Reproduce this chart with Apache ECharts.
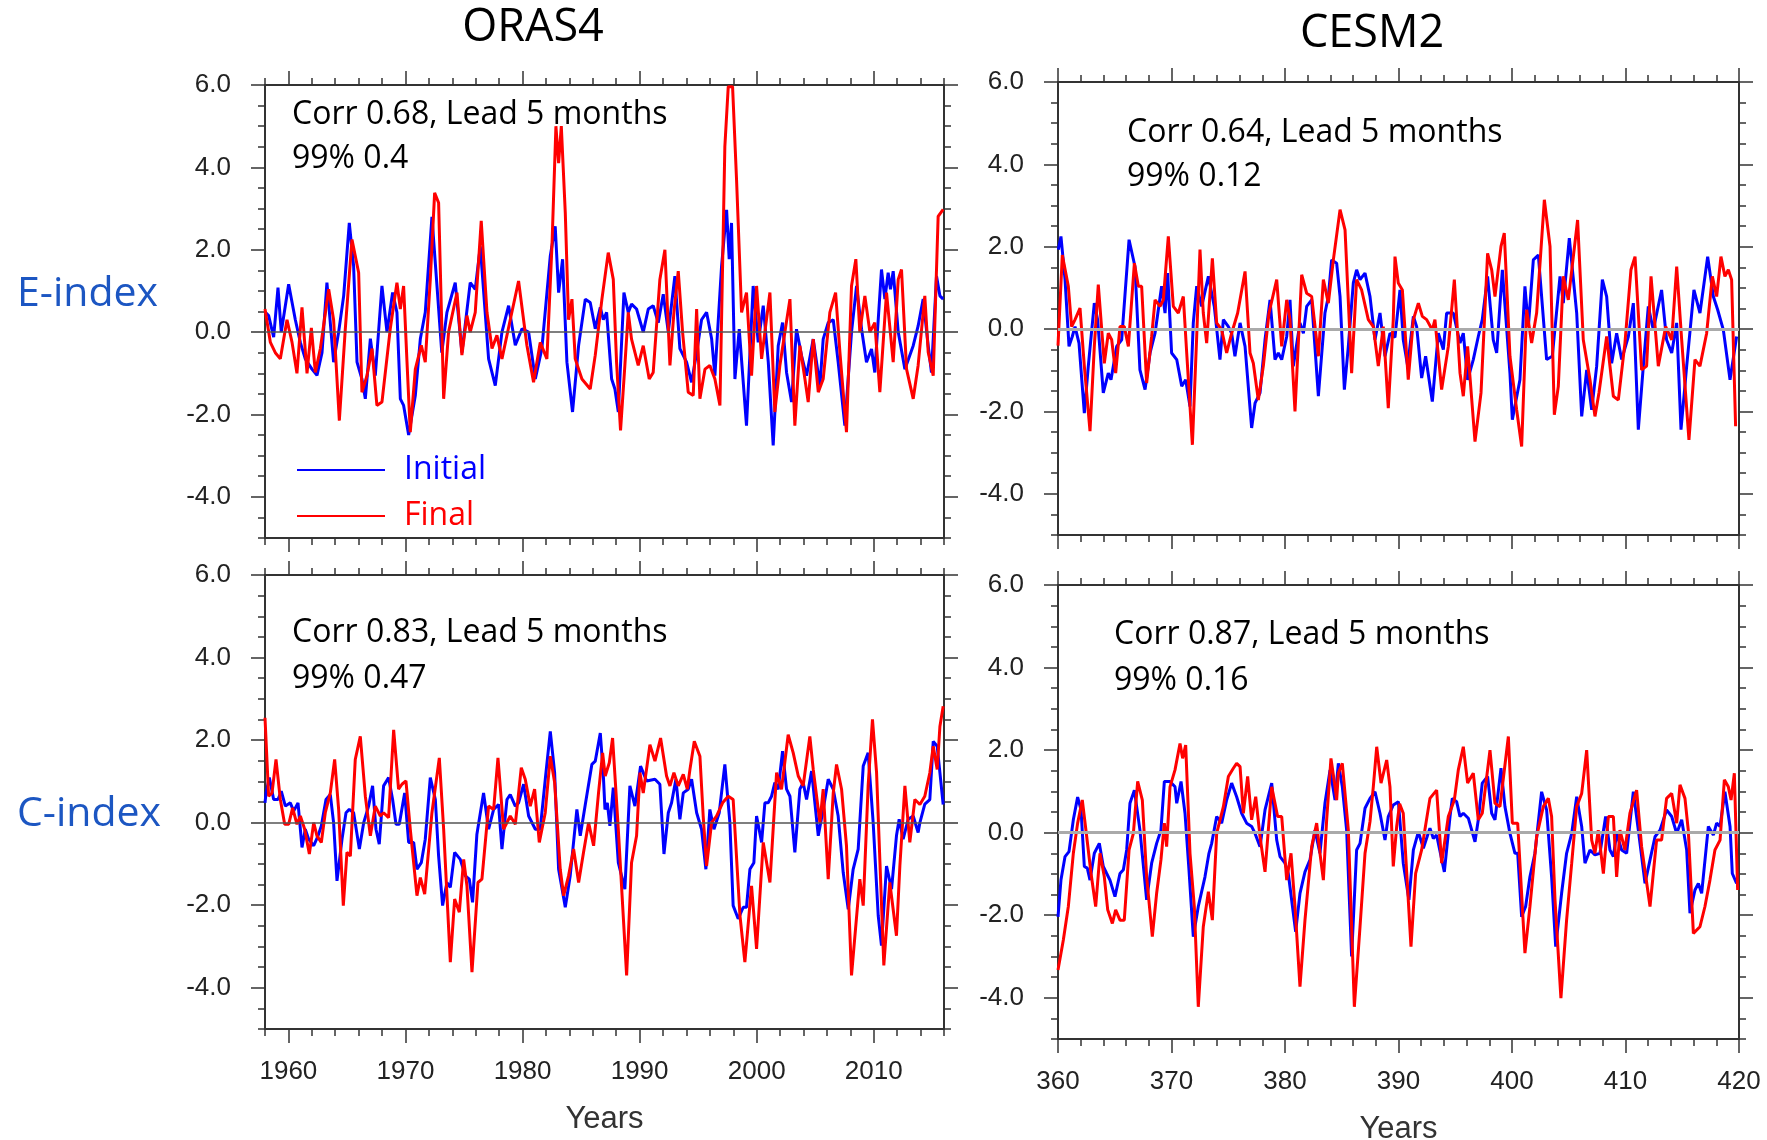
<!DOCTYPE html>
<html>
<head>
<meta charset="utf-8">
<title>E-index / C-index, ORAS4 and CESM2</title>
<script src="https://cdn.jsdelivr.net/npm/echarts@6/dist/echarts.min.js"></script>
<style>
html, body { margin: 0; padding: 0; background: #fff; }
#chart { width: 1767px; height: 1140px; }
</style>
</head>
<body>
<div id="chart"></div>
<script>
// tick labels
var orasYears = [1960, 1970, 1980, 1990, 2000, 2010];
var cesmYears = [360, 370, 380, 390, 400, 410, 420];
var indexTicks = [-4, -2, 0, 2, 4, 6];

// E-index, ORAS4  [year, value]
var eOrasInitial = [
  [1958.03,0.48],[1958.31,0.4],[1958.74,-0.12],[1959.11,1.08],[1959.39,0],[1960.02,1.16],[1960.59,0.3],[1961.02,-0.25],[1961.44,-0.65],[1962.01,-0.9],
  [1962.44,-1.05],[1962.87,-0.5],[1963.29,1.2],[1963.86,-0.73],[1964.29,0],[1964.72,0.88],[1965.2,2.65],[1965.57,1.6],[1965.86,-0.73],[1966.28,-1.14],
  [1966.57,-1.62],[1967.0,-0.16],[1967.42,-1.06],[1967.99,1.12],[1968.42,0],[1968.9,0.96],[1969.27,0.48],[1969.56,-1.62],[1969.84,-1.78],[1970.27,-2.5],
  [1970.84,-1.54],[1971.27,-0.16],[1971.69,0.48],[1972.26,2.8],[1972.69,1.12],[1973.1,-0.5],[1973.54,0.48],[1974.25,1.2],[1974.82,-0.5],[1975.53,1.2],
  [1975.96,1.04],[1976.39,2.08],[1977.1,-0.65],[1977.67,-1.3],[1978.24,0],[1978.81,0.64],[1979.38,-0.32],[1979.95,0.08],[1980.52,0],[1981.09,-1.14],
  [1981.65,-0.4],[1982.37,1.85],[1982.79,2.57],[1983.08,0.96],[1983.42,1.77],[1983.79,-0.73],[1984.27,-1.94],[1984.79,-0.32],[1985.36,0.8],[1985.78,0.72],
  [1986.21,0.08],[1986.64,0.6],[1986.9,0.3],[1987.18,0.48],[1987.61,-1.14],[1987.89,-1.38],[1988.18,-1.94],[1988.66,0.96],[1989.03,0.48],[1989.31,0.68],
  [1989.74,0.56],[1990.31,0],[1990.74,0.56],[1991.16,0.64],[1991.59,0.23],[1992.02,0.92],[1992.45,0],[1993.01,1.36],[1993.44,-0.4],[1994.01,-0.73],
  [1994.44,-1.22],[1994.87,-0.5],[1995.29,0.3],[1995.72,0.48],[1996.15,-0.16],[1996.43,-1.06],[1997.0,1.6],[1997.43,2.97],[1997.65,1.77],[1997.85,2.65],
  [1998.14,-1.14],[1998.51,0.07],[1999.13,-2.27],[1999.7,1.12],[2000.13,-0.25],[2000.56,0.64],[2000.99,-0.73],[2001.41,-2.75],[2001.84,-0.33],[2002.21,0.23],
  [2002.55,-0.98],[2002.98,-1.7],[2003.4,0.07],[2003.83,-0.57],[2004.26,-1.06],[2004.83,-0.17],[2005.4,-1.3],[2005.68,-0.17],[2006.11,0.23],[2006.54,0.3],
  [2006.96,-0.73],[2007.53,-2.27],[2008.1,0],[2008.53,1.12],[2008.96,0.07],[2009.38,-0.73],[2009.81,-0.41],[2010.09,-0.98],[2010.66,1.52],[2010.95,0.8],
  [2011.23,1.44],[2011.43,1.04],[2011.66,1.48],[2012.09,0],[2012.66,-0.9],[2013.37,-0.33],[2013.79,0.15],[2014.22,0.8],[2014.65,-0.33],[2014.93,-0.98],
  [2015.36,1.36],[2015.65,0.88],[2015.93,0.8]
];
var eOrasFinal = [
  [1958.0,0.56],[1958.46,-0.25],[1958.88,-0.5],[1959.31,-0.65],[1959.88,0.3],[1960.31,-0.25],[1960.73,-1.0],[1961.16,0.6],[1961.59,-1.0],[1961.96,0.1],
  [1962.3,-0.98],[1962.73,-0.4],[1963.44,1.04],[1963.86,0.3],[1964.35,-2.15],[1964.86,0.08],[1965.43,2.25],[1966.0,1.44],[1966.28,-1.46],[1966.71,-1.06],
  [1967.14,-0.4],[1967.56,-1.78],[1967.99,-1.7],[1968.7,0.08],[1969.27,1.2],[1969.56,0.56],[1969.84,1.12],[1970.13,-0.73],[1970.41,-2.43],[1970.84,-0.9],
  [1971.35,-0.32],[1971.69,-0.73],[1972.12,1.28],[1972.49,3.38],[1972.83,3.14],[1973.26,-1.62],[1973.68,0],[1974.4,0.96],[1974.82,-0.56],[1975.25,0.4],
  [1975.53,0],[1975.96,0.48],[1976.47,2.7],[1976.96,0.48],[1977.39,-0.4],[1977.81,-0.08],[1978.24,-0.65],[1978.95,0.3],[1979.66,1.24],[1980.37,-0.32],
  [1980.94,-1.22],[1981.51,-0.25],[1982.08,-0.65],[1982.51,2.08],[1982.85,5.0],[1983.08,4.1],[1983.31,5.0],[1983.65,2.9],[1983.93,0.3],[1984.22,0.8],
  [1984.5,-0.65],[1985.07,-1.14],[1985.78,-1.38],[1986.21,-0.56],[1986.78,0.8],[1987.32,1.93],[1987.75,1.28],[1988.03,-0.73],[1988.37,-2.39],[1988.74,-0.81],
  [1989.03,0.48],[1989.31,-0.17],[1989.88,-0.81],[1990.31,-0.33],[1990.82,-1.14],[1991.16,-0.98],[1991.73,1.28],[1992.16,2.0],[1992.59,-0.81],[1992.93,0.48],
  [1993.3,1.48],[1993.67,0],[1994.15,-1.46],[1994.58,-1.54],[1994.87,0.56],[1995.15,-1.62],[1995.58,-0.9],[1996.0,-0.81],[1996.43,-1.14],[1996.86,-1.78],
  [1997.28,4.5],[1997.57,5.96],[1997.94,5.96],[1998.28,3.7],[1998.71,0.48],[1999.13,0.96],[1999.56,-1.06],[1999.99,1.12],[2000.42,-0.65],[2000.7,0],
  [2001.13,0.96],[2001.55,-1.94],[2001.98,-0.81],[2002.41,0],[2002.84,0.8],[2003.26,-2.27],[2003.69,-0.33],[2004.12,-1.14],[2004.4,-1.7],[2004.83,-0.17],
  [2005.26,-1.46],[2005.68,-1.14],[2006.25,0.48],[2006.74,0.96],[2007.11,-0.49],[2007.67,-2.43],[2008.1,1.12],[2008.47,1.77],[2008.81,0],[2009.24,0.88],
  [2009.67,0],[2010.09,0.23],[2010.52,-1.46],[2011.09,0.96],[2011.66,-0.73],[2012.09,1.28],[2012.37,1.52],[2012.8,-0.9],[2013.37,-1.62],[2013.79,-0.81],
  [2014.36,0.88],[2014.65,-0.49],[2015.08,-1.06],[2015.5,2.81],[2015.93,2.98]
];

// E-index, CESM2
var eCesmInitial = [
  [360.03,1.93],[360.26,2.25],[360.62,1.2],[360.97,-0.42],[361.26,-0.18],[361.5,0.06],[361.85,-0.34],[362.32,-2.04],[362.67,-0.9],[363.2,0.63],
  [363.49,0.23],[363.99,-1.55],[364.43,-1.07],[364.67,-1.23],[365.17,-0.42],[365.61,-0.26],[366.26,2.17],[366.78,1.52],[367.22,-0.99],[367.67,-1.47],
  [368.11,-0.58],[368.55,-0.1],[369.13,1.04],[369.43,0.39],[369.66,1.36],[370.01,-0.58],[370.46,-0.74],[370.9,-1.39],[371.25,-1.23],[371.63,-1.88],
  [371.92,0.15],[372.22,1.04],[372.66,0.55],[373.25,1.28],[373.77,0.55],[374.27,-0.74],[374.57,0.23],[375.01,0.06],[375.3,-0.1],[375.59,-0.66],
  [376.04,0.15],[376.48,-0.42],[377.06,-2.4],[377.36,-1.8],[377.8,-1.55],[378.24,-0.26],[378.68,0.71],[379.12,-0.74],[379.41,-0.58],[379.71,-0.74],
  [380.15,-0.18],[380.44,0.71],[380.73,-0.9],[381.32,0.15],[381.62,-0.1],[381.91,0.55],[382.35,0.71],[382.94,-1.63],[383.52,0.39],[383.82,0.79],
  [384.11,1.68],[384.55,1.6],[384.85,0.79],[385.23,-1.47],[385.58,-0.42],[386.02,1.12],[386.31,1.44],[386.61,1.2],[387.05,1.36],[387.49,0.79],
  [387.93,-0.26],[388.37,0.39],[388.81,-0.66],[389.25,-0.1],[389.69,-0.2],[390.13,0.95],[390.42,-0.26],[390.81,-0.9],[391.31,0.31],[391.6,0.06],
  [392.04,-1.19],[392.39,-0.66],[392.98,-1.76],[393.51,-0.1],[393.95,-0.5],[394.24,0.39],[394.83,0.39],[395.42,-0.34],[395.71,-0.1],[396.09,-1.23],
  [396.59,-0.74],[397.03,-0.18],[397.38,0.23],[397.85,1.28],[398.35,-0.26],[398.65,-0.58],[399.15,1.44],[399.82,-1.07],[400.03,-2.2],[400.7,-1.23],
  [401.14,1.04],[401.44,0.06],[401.88,1.68],[402.32,1.8],[403.05,-0.74],[403.55,-0.66],[404.23,1.28],[404.52,0.63],[405.05,2.21],[405.7,0.39],
  [406.14,-2.12],[406.58,-0.99],[407.02,-1.96],[407.46,-0.9],[407.96,1.2],[408.34,0.79],[408.78,-0.83],[409.22,-0.1],[409.66,-0.74],[410.25,-0.18],
  [410.69,0.63],[411.13,-2.44],[411.57,-0.9],[412.01,0.55],[412.45,-0.02],[413.18,0.95],[413.62,-0.26],[414.07,-0.58],[414.51,0.15],[414.89,-2.44],
  [415.39,-0.9],[416.03,0.95],[416.56,0.39],[417.24,1.76],[417.74,0.79],[418.12,0.47],[418.62,-0.02],[419.21,-1.23],[419.79,-0.18]
];
var eCesmFinal = [
  [360.0,-0.4],[360.38,1.8],[360.91,1.04],[361.2,0.06],[361.5,0.23],[361.94,0.51],[362.32,-0.9],[362.82,-2.48],[363.2,-0.42],[363.55,1.08],
  [364.08,-0.83],[364.43,-0.1],[364.73,-0.26],[365.08,-1.07],[365.46,0.06],[365.84,0.06],[366.2,-0.42],[366.73,1.6],[367.08,1.04],[367.37,1.04],
  [367.81,-1.31],[368.25,-0.18],[368.55,0.71],[368.99,0.55],[369.28,0.71],[369.72,2.25],[370.16,0.55],[370.6,0.39],[371.04,0.79],[371.34,-0.58],
  [371.84,-2.81],[372.22,-0.18],[372.51,1.93],[372.8,0.39],[373.1,-0.34],[373.6,1.72],[373.98,0.15],[374.42,-0.02],[374.86,-0.58],[375.3,-0.1],
  [375.83,0.39],[376.48,1.4],[376.92,-0.58],[377.21,-0.83],[377.65,-1.72],[378.09,-0.9],[378.59,0.39],[379.27,1.2],[379.71,-0.42],[380.15,0.71],
  [380.44,0.23],[380.88,-2.0],[381.47,1.32],[381.91,0.87],[382.35,0.79],[382.94,-0.66],[383.38,1.2],[383.82,0.63],[384.26,1.68],[384.85,2.9],
  [385.29,2.41],[385.87,-1.07],[386.31,1.2],[386.75,0.95],[387.34,0.23],[387.78,0.06],[388.22,-0.9],[388.66,0.06],[389.1,-1.92],[389.54,0.23],
  [389.69,1.76],[389.98,1.12],[390.34,0.95],[390.86,-1.23],[391.31,0.23],[391.75,0.63],[392.1,0.31],[392.48,0.23],[392.98,-0.02],[393.21,0.23],
  [393.8,-1.47],[394.39,-0.42],[394.92,1.2],[395.42,-1.07],[395.71,-1.63],[396.09,-0.42],[396.74,-2.73],[397.27,-1.55],[397.85,1.84],[398.21,1.44],
  [398.5,0.79],[399.03,2.01],[399.32,2.33],[399.82,-0.66],[400.41,-1.96],[400.85,-2.85],[401.29,0.47],[401.73,-0.34],[402.17,0.39],[402.85,3.14],
  [403.35,2.01],[403.73,-2.08],[404.08,-1.39],[404.52,1.28],[404.96,0.71],[405.78,2.65],[406.28,-0.26],[406.87,-1.23],[407.31,-2.12],[407.66,-1.55],
  [408.34,-0.18],[408.93,-1.63],[409.37,-1.72],[409.95,-0.34],[410.48,1.44],[410.84,1.76],[411.42,-0.99],[411.86,-0.9],[412.25,1.28],[412.89,-0.9],
  [413.54,0.06],[414.07,-0.26],[414.51,1.52],[414.95,-0.26],[415.59,-2.69],[416.12,-0.74],[416.56,-0.9],[417.15,-0.1],[417.65,1.28],[418.03,0.79],
  [418.41,1.76],[418.76,1.28],[419.06,1.44],[419.35,1.2],[419.7,-2.36]
];

// C-index, ORAS4
var cOrasInitial = [
  [1958.0,0.48],[1958.09,0.72],[1958.37,1.09],[1958.74,0.56],[1959.11,0.56],[1959.39,0.76],[1959.74,0.4],[1960.16,0.48],[1960.45,0.28],[1960.82,0.48],
  [1961.16,-0.6],[1961.44,-0.16],[1961.73,-0.4],[1962.16,-0.56],[1962.53,-0.32],[1962.81,-0.08],[1963.21,0.56],[1963.58,0.68],[1963.86,0],[1964.15,-1.41],
  [1964.58,-0.4],[1964.92,0.24],[1965.2,0.32],[1965.57,0.24],[1966.06,-0.64],[1966.43,0],[1966.85,0.4],[1967.19,0.89],[1967.48,-0.16],[1967.76,-0.52],
  [1968.13,0.89],[1968.56,1.09],[1968.9,0.56],[1969.19,-0.04],[1969.47,-0.04],[1969.93,0.72],[1970.27,-0.48],[1970.7,-0.48],[1970.98,-1.13],[1971.35,-0.97],
  [1971.69,-0.4],[1972.12,1.09],[1972.55,0.56],[1972.83,-0.81],[1973.17,-2.01],[1973.54,-1.45],[1973.83,-1.57],[1974.2,-0.72],[1974.68,-0.89],[1975.11,-1.29],
  [1975.45,-1.37],[1975.73,-1.93],[1976.1,-0.28],[1976.67,0.72],[1977.1,-0.16],[1977.53,0.32],[1977.95,0.44],[1978.24,-0.64],[1978.67,0.56],[1978.95,0.68],
  [1979.38,0.4],[1979.66,0.48],[1980.09,0.93],[1980.52,0.16],[1981.09,-0.16],[1981.51,-0.16],[1981.94,1.05],[1982.37,2.21],[1982.74,1.21],[1983.08,-1.13],
  [1983.65,-2.05],[1984.07,-1.29],[1984.64,0.32],[1984.93,-0.32],[1985.36,0.44],[1985.92,1.41],[1986.21,1.49],[1986.64,2.17],[1986.89,1.21],[1987.04,0.32],
  [1987.24,0.48],[1987.46,-0.08],[1987.75,0.85],[1988.18,-0.97],[1988.74,-1.61],[1989.17,0.89],[1989.6,0.4],[1990.08,1.37],[1990.6,1.01],[1991.31,1.05],
  [1991.73,0.93],[1992.08,-0.76],[1992.45,0.24],[1992.73,0.48],[1993.1,1.05],[1993.44,0.08],[1993.73,0.72],[1994.15,0.81],[1994.44,1.05],[1994.87,0.24],
  [1995.29,-0.16],[1995.66,-1.13],[1996.0,0.32],[1996.35,-0.16],[1996.8,0.24],[1997.28,1.41],[1997.71,0],[1997.99,-2.01],[1998.42,-2.33],[1998.85,-2.05],
  [1999.13,-2.05],[1999.42,-1.13],[1999.76,-0.97],[1999.99,0.16],[2000.42,-0.48],[2000.7,0.48],[2000.98,0.48],[2001.27,0.64],[2001.55,0.97],[2001.84,0.81],
  [2002.21,1.73],[2002.55,0.81],[2002.84,0.64],[2003.26,-0.72],[2003.69,0.81],[2003.97,0.97],[2004.26,0.56],[2004.69,1.25],[2005.26,-0.32],[2005.68,0.32],
  [2006.11,1.05],[2006.54,0.81],[2006.96,0.16],[2007.39,-1.21],[2007.82,-2.1],[2008.24,-1.13],[2008.67,-0.64],[2009.1,1.37],[2009.52,1.69],[2009.95,0],
  [2010.38,-2.25],[2010.66,-2.98],[2011.09,-1.05],[2011.52,-1.61],[2011.94,-0.32],[2012.17,0.08],[2012.51,-0.4],[2012.94,0.08],[2013.37,0.16],[2013.79,-0.24],
  [2013.94,0],[2014.36,0.45],[2014.79,0.56],[2015.08,1.97],[2015.42,1.85],[2015.65,1.21],[2015.93,0.44]
];
var cOrasFinal = [
  [1958.0,2.54],[1958.31,0.64],[1958.6,0.72],[1958.94,1.53],[1959.31,0.56],[1959.68,-0.04],[1960.02,-0.04],[1960.36,0.36],[1960.73,-0.04],[1961.02,0.16],
  [1961.39,-0.16],[1961.79,-0.76],[1962.16,0],[1962.44,-0.32],[1962.81,-0.48],[1963.15,0.24],[1963.58,0.72],[1963.95,1.53],[1964.29,0.32],[1964.69,-2.01],
  [1965.0,-0.72],[1965.29,-0.81],[1965.71,1.53],[1966.14,2.09],[1966.57,0.64],[1967.0,-0.32],[1967.42,0.4],[1967.85,0.16],[1968.13,0.24],[1968.56,0.12],
  [1968.99,2.25],[1969.41,0.81],[1969.7,0.93],[1970.04,1.01],[1970.41,-0.16],[1970.98,-1.77],[1971.27,-1.33],[1971.64,-1.73],[1972.26,0.24],[1972.89,1.57],
  [1973.26,-0.16],[1973.83,-3.38],[1974.2,-1.85],[1974.6,-2.17],[1974.97,-0.89],[1975.25,-1.53],[1975.68,-3.62],[1976.19,-1.45],[1976.53,-1.37],[1977.1,0.4],
  [1977.53,0.32],[1977.9,1.57],[1978.38,-0.16],[1978.95,0.16],[1979.38,-0.04],[1979.89,1.33],[1980.23,1.05],[1980.66,0.4],[1981.03,0.81],[1981.43,-0.48],
  [1981.94,0.24],[1982.37,1.61],[1982.74,0.97],[1983.22,-1.13],[1983.51,-1.77],[1983.93,-1.29],[1984.36,-0.64],[1984.79,-1.45],[1985.21,-0.72],[1985.64,0],
  [1986.07,-0.56],[1986.49,0.72],[1986.84,1.69],[1987.06,1.13],[1987.41,1.45],[1987.69,2.05],[1988.18,-0.16],[1988.89,-3.7],[1989.31,-0.97],[1989.74,-0.32],
  [1990.03,1.21],[1990.31,0.72],[1990.88,1.89],[1991.31,1.49],[1991.79,2.05],[1992.3,1.13],[1992.59,0.89],[1992.93,1.21],[1993.3,0.89],[1993.73,1.17],
  [1994.07,0.81],[1994.3,1.29],[1994.67,1.97],[1995.15,1.61],[1995.43,0.16],[1995.72,-1.05],[1996.15,0],[1996.57,0.16],[1997.09,0.48],[1997.57,0.64],
  [1997.99,0.56],[1998.57,-2.25],[1998.99,-3.38],[1999.56,-1.53],[1999.99,-3.06],[2000.56,-0.48],[2001.13,-1.45],[2001.7,1.21],[2002.12,0.81],[2002.69,2.13],
  [2003.12,1.69],[2003.55,1.13],[2003.97,0.89],[2004.54,2.09],[2004.83,1.29],[2005.4,0],[2005.68,0.81],[2006.11,-1.37],[2006.54,0.72],[2006.82,1.41],
  [2007.25,0.81],[2007.67,-0.56],[2008.1,-3.7],[2008.81,-1.37],[2009.1,-2.01],[2009.52,0.89],[2009.89,2.5],[2010.24,1.21],[2010.86,-3.46],[2011.37,-1.45],
  [2011.94,-2.74],[2012.23,-1.05],[2012.66,0.89],[2013.08,-0.48],[2013.51,0.56],[2013.94,0.44],[2014.36,0.64],[2014.79,1.21],[2015.08,1.85],[2015.42,1.29],
  [2015.65,2.33],[2015.93,2.82]
];

// C-index, CESM2
var cCesmInitial = [
  [360.0,-2.04],[360.26,-1.15],[360.62,-0.58],[360.97,-0.46],[361.35,0.31],[361.73,0.86],[362.03,0.55],[362.32,-0.82],[362.58,-0.86],[362.82,-1.15],
  [363.2,-0.5],[363.64,-0.26],[363.99,-0.82],[364.29,-0.99],[364.58,-1.15],[365.02,-1.55],[365.46,-0.99],[365.76,-0.9],[366.05,-0.42],[366.34,0.71],
  [366.73,1.03],[367.22,0.06],[367.81,-1.63],[368.25,-0.74],[368.69,-0.26],[369.07,0.06],[369.37,1.24],[369.87,1.24],[370.31,1.11],[370.46,0.71],
  [370.84,1.24],[371.19,0.47],[371.54,-0.9],[371.92,-2.52],[372.36,-1.79],[372.95,-1.07],[373.3,-0.5],[373.54,-0.26],[373.98,0.39],[374.42,0.23],
  [374.86,0.79],[375.3,1.2],[375.74,0.87],[376.18,0.47],[376.62,0.23],[377.06,0.15],[377.36,-0.02],[377.8,-0.34],[378.24,0.55],[378.83,1.2],
  [379.27,-0.18],[379.56,-0.58],[380.0,-0.74],[380.29,-0.99],[380.94,-2.4],[381.32,-1.47],[381.76,-0.95],[382.2,-0.66],[382.64,0.06],[383.08,-0.5],
  [383.52,0.71],[383.97,1.52],[384.41,0.79],[384.7,1.68],[385.05,1.11],[385.43,0.06],[385.87,-3.0],[386.31,-0.42],[386.61,-0.26],[387.05,0.59],
  [387.49,0.83],[387.93,0.99],[388.37,0.47],[388.81,-0.18],[389.1,0.39],[389.54,0.67],[389.99,0.75],[390.42,-0.74],[390.92,-1.63],[391.31,-0.42],
  [391.75,0.02],[392.19,-0.38],[392.77,0.11],[393.07,-0.14],[393.36,-0.06],[394.04,-0.95],[394.54,0.39],[394.74,0.83],[395.12,0.75],[395.42,0.39],
  [395.71,0.47],[396.15,0.35],[396.74,-0.22],[397.03,0.31],[397.38,1.2],[397.85,1.36],[398.21,0.47],[398.5,0.31],[399.03,1.56],[399.38,0.63],
  [399.82,-0.02],[400.26,-0.5],[400.5,-0.5],[400.85,-2.04],[401.2,-1.79],[401.58,-1.07],[402.02,-0.5],[402.61,0.99],[403.05,0.55],[403.49,-1.07],
  [403.85,-2.76],[404.37,-1.47],[404.81,-0.5],[405.26,-0.02],[405.7,0.87],[406.14,0.15],[406.43,-0.74],[406.87,-0.42],[407.31,-0.54],[407.75,-0.5],
  [408.25,0.39],[408.63,-0.42],[408.93,-0.58],[409.22,-0.02],[409.66,-0.42],[410.1,-0.5],[410.69,0.99],[411.13,0.06],[411.72,-1.23],[412.16,-0.66],
  [412.6,-0.1],[413.04,0.06],[413.62,0.55],[414.07,0.39],[414.51,-0.02],[414.95,0.31],[415.39,-0.42],[415.68,-1.95],[416.12,-1.39],[416.42,-1.23],
  [416.71,-1.47],[417.3,0.15],[417.74,-0.06],[418.03,0.23],[418.33,0.15],[418.76,0.99],[419.21,0.15],[419.41,-0.99],[419.79,-1.23]
];
var cCesmFinal = [
  [360.0,-3.33],[360.47,-2.6],[360.91,-1.79],[361.35,-0.5],[361.73,0.23],[362.14,0.79],[362.53,-0.1],[362.91,-0.99],[363.32,-1.79],[363.7,-0.5],
  [364.08,-1.07],[364.38,-1.87],[364.79,-2.2],[365.08,-1.87],[365.46,-2.12],[365.84,-2.12],[366.26,-0.42],[366.64,-0.02],[367.02,1.24],[367.43,0.79],
  [367.81,-1.07],[368.31,-2.52],[368.69,-1.47],[369.07,-0.66],[369.37,0.23],[369.57,-0.34],[369.87,1.11],[370.31,1.52],[370.75,2.16],[370.98,1.8],
  [371.25,2.12],[371.63,-0.5],[372.01,-1.79],[372.36,-4.22],[372.8,-2.28],[373.25,-1.43],[373.6,-2.12],[373.98,-0.02],[374.57,0.63],[375.01,1.36],
  [375.45,1.56],[375.74,1.68],[376.04,1.6],[376.33,0.47],[376.71,1.36],[377.06,0.31],[377.42,0.87],[377.8,-0.1],[378.24,-0.95],[378.83,1.11],
  [379.35,0.39],[379.71,0.39],[380.15,-1.15],[380.53,-0.5],[380.88,-1.79],[381.32,-3.73],[381.76,-2.12],[382.35,-0.34],[382.79,0.23],[383.08,-0.5],
  [383.38,-1.15],[383.67,0.31],[384.05,1.8],[384.41,1.11],[384.55,0.79],[384.7,1.44],[385.05,1.68],[385.58,0.06],[386.11,-4.22],[386.61,-2.28],
  [387.05,-0.5],[387.49,0.27],[387.78,1.11],[388.08,2.08],[388.46,1.2],[388.96,1.76],[389.25,1.11],[389.54,-0.82],[389.84,0.15],[390.1,0.7],
  [390.42,0.47],[391.1,-2.76],[391.51,-0.99],[392.04,-0.42],[392.77,0.83],[393.36,1.03],[393.8,-0.74],[394.39,0.39],[394.92,0.79],[395.27,1.52],
  [395.71,2.08],[396.09,1.2],[396.59,1.44],[397.03,0.31],[397.38,0.47],[398.06,2.0],[398.5,0.71],[398.94,0.63],[399.68,2.33],[400.03,0.23],
  [400.5,0.23],[401.14,-2.92],[401.58,-1.79],[402.17,-0.1],[402.76,0.63],[403.2,0.83],[403.49,0.39],[403.79,-1.63],[404.31,-4.01],[404.81,-2.12],
  [405.26,-0.74],[405.7,0.63],[406.14,0.95],[406.58,2.0],[407.02,-0.18],[407.31,-0.5],[407.6,0.06],[408.05,-0.99],[408.49,0.39],[408.93,0.39],
  [409.22,-1.07],[409.51,0.06],[409.95,-0.42],[410.39,0.47],[410.98,1.03],[411.42,-0.34],[412.16,-1.79],[412.74,-0.18],[413.18,-0.18],[413.62,0.83],
  [414.07,0.95],[414.51,0.23],[414.8,1.16],[415.24,0.83],[415.53,0.06],[415.98,-2.44],[416.56,-2.28],[417.0,-1.79],[417.44,-1.15],[417.88,-0.42],
  [418.33,-0.18],[418.71,1.28],[419.06,1.11],[419.3,0.79],[419.59,1.44],[419.88,-1.39]
];

var BLUE = '#0000ff', RED = '#ff0000', AXIS = '#333';

function steps(a, b, d) {
  var out = [];
  for (var v = a; v <= b + 1e-9; v += d) out.push(Math.round(v * 100) / 100);
  return out;
}

// one side of a panel: an axis with line + minor ticks, and a twin carrying the major ticks
function sidePair(grid, pos, min, max, minor, major, label, name, nameGap) {
  var base = { type: 'value', gridIndex: grid, position: pos, min: min, max: max,
               splitLine: { show: false }, axisPointer: { show: false } };
  var a = Object.assign({}, base, {
    axisLine: { show: true, onZero: false, lineStyle: { color: AXIS, width: 2 } },
    axisTick: { show: true, inside: false, length: 7, customValues: minor, lineStyle: { color: AXIS, width: 1.5 } },
    axisLabel: label || { show: false }
  });
  if (name) {
    a.name = name;
    a.nameLocation = 'middle';
    a.nameGap = nameGap;
    a.nameTextStyle = { fontFamily: 'Liberation Sans', fontSize: 31, color: '#333' };
  }
  var b = Object.assign({}, base, {
    axisLine: { show: false, onZero: false },
    axisTick: { show: true, inside: false, length: 14, customValues: major, lineStyle: { color: AXIS, width: 1.5 } },
    axisLabel: { show: false }
  });
  return [a, b];
}

var panels = [
  { left: 265, top: 85, width: 679, height: 453, xmin: 1958, xmax: 2016, xTicks: orasYears,
    initial: eOrasInitial, final: eOrasFinal, zero: '#555', zeroWidth: 1.5, xLabels: false },
  { left: 1058, top: 82, width: 681, height: 453, xmin: 360, xmax: 420, xTicks: cesmYears,
    initial: eCesmInitial, final: eCesmFinal, zero: '#aaa', zeroWidth: 3, xLabels: false },
  { left: 265, top: 575, width: 679, height: 454, xmin: 1958, xmax: 2016, xTicks: orasYears,
    initial: cOrasInitial, final: cOrasFinal, zero: '#555', zeroWidth: 1.5, xLabels: true, nameGap: 75 },
  { left: 1058, top: 585, width: 681, height: 454, xmin: 360, xmax: 420, xTicks: cesmYears,
    initial: cCesmInitial, final: cCesmFinal, zero: '#aaa', zeroWidth: 3, xLabels: true, nameGap: 75 }
];

var grids = [], xAxes = [], yAxes = [], series = [];
var tickFont = { fontFamily: 'Liberation Sans', fontSize: 26, color: '#222' };

panels.forEach(function (p, g) {
  grids.push({ left: p.left, top: p.top, width: p.width, height: p.height,
               containLabel: false, outerBoundsMode: 'none' });

  var xMinor = steps(p.xmin, p.xmax, 2);
  var xLabel = p.xLabels ? Object.assign({ show: true, margin: 30, customValues: p.xTicks,
                  formatter: function (v) { return String(v); } }, tickFont) : null;
  xAxes = xAxes.concat(
    sidePair(g, 'bottom', p.xmin, p.xmax, xMinor, p.xTicks, xLabel, p.xLabels ? 'Years' : null, p.nameGap),
    sidePair(g, 'top', p.xmin, p.xmax, xMinor, p.xTicks, null)
  );

  var yMinor = steps(-5, 6, 0.5);
  var yLabel = Object.assign({ show: true, margin: 34, customValues: indexTicks,
                  formatter: function (v) { return v.toFixed(1); } }, tickFont);
  yAxes = yAxes.concat(
    sidePair(g, 'left', -5, 6, yMinor, indexTicks, yLabel),
    sidePair(g, 'right', -5, 6, yMinor, indexTicks, null)
  );

  series.push({
    name: 'Initial', type: 'line', xAxisIndex: g * 4, yAxisIndex: g * 4,
    data: p.initial, showSymbol: false, color: BLUE,
    lineStyle: { color: BLUE, width: 3 }, itemStyle: { color: BLUE },
    markLine: {
      silent: true, symbol: ['none', 'none'], label: { show: false },
      lineStyle: { color: p.zero, width: p.zeroWidth, type: 'solid' },
      data: [{ yAxis: 0 }]
    }
  });
  series.push({
    name: 'Final', type: 'line', xAxisIndex: g * 4, yAxisIndex: g * 4,
    data: p.final, showSymbol: false, color: RED,
    lineStyle: { color: RED, width: 3 }, itemStyle: { color: RED }
  });
});

function txt(text, x, y, size, color, align) {
  return {
    type: 'text', x: x, y: y, silent: true,
    style: { text: text, fill: color, font: size + 'px "Open Sans"',
             textAlign: align || 'left', textVerticalAlign: 'middle',
             align: align || 'left', verticalAlign: 'middle' }
  };
}

var graphics = [
  txt('ORAS4', 533, 28, 45, '#000', 'center'),
  txt('CESM2', 1372, 34, 45, '#000', 'center'),
  txt('E-index', 17, 294, 41, '#1c56c2'),
  txt('C-index', 17, 814, 41, '#1c56c2'),
  txt('Corr 0.68, Lead 5 months', 292, 115, 32, '#000'),
  txt('99% 0.4', 292, 159, 32, '#000'),
  txt('Corr 0.64, Lead 5 months', 1127, 133, 32, '#000'),
  txt('99% 0.12', 1127, 177, 32, '#000'),
  txt('Corr 0.83, Lead 5 months', 292, 633, 32, '#000'),
  txt('99% 0.47', 292, 679, 32, '#000'),
  txt('Corr 0.87, Lead 5 months', 1114, 635, 32, '#000'),
  txt('99% 0.16', 1114, 681, 32, '#000')
];

var chart = echarts.init(document.getElementById('chart'), null, { renderer: 'canvas' });
chart.setOption({
  backgroundColor: '#fff',
  animation: false,
  grid: grids,
  xAxis: xAxes,
  yAxis: yAxes,
  legend: {
    data: [
      { name: 'Initial', textStyle: { color: BLUE } },
      { name: 'Final', textStyle: { color: RED } }
    ],
    orient: 'vertical', left: 292, top: 447,
    icon: 'rect', itemWidth: 88, itemHeight: 2, itemGap: 10,
    selectedMode: false,
    textStyle: { fontFamily: 'Open Sans', fontSize: 32, lineHeight: 36, padding: [0, 0, 0, 14] }
  },
  graphic: graphics,
  series: series
});
</script>
</body>
</html>
